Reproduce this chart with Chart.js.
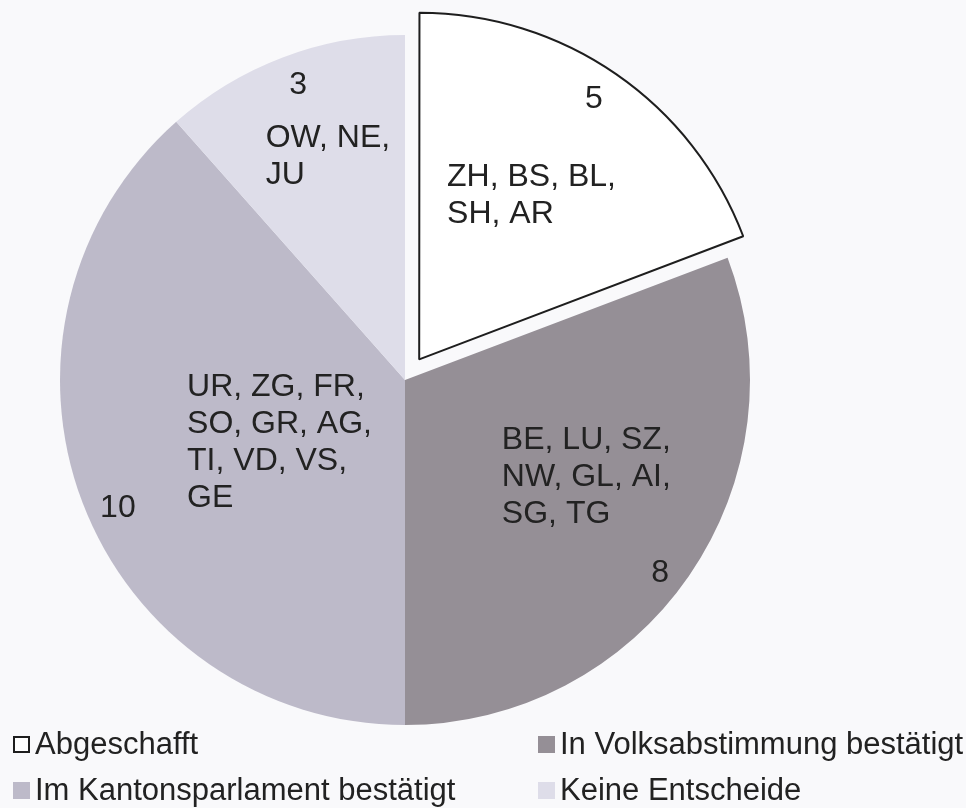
<!DOCTYPE html>
<html lang="de">
<head>
  <meta charset="UTF-8">
  <title>Entscheide nach Kantonen</title>
  <script src="https://cdn.jsdelivr.net/npm/chart.js"></script>
  <style>
    html, body {
      margin: 0;
      padding: 0;
      background: #f9f9fb;
      font-family: 'Liberation Sans', Arial, sans-serif;
    }

    .wrap {
      position: relative;
      width: 966px;
      height: 808px;
      overflow: hidden;
    }

    .pie-box {
      position: absolute;
      left: 0;
      top: 0;
      width: 810px;
      height: 760px;
    }

    .legende {
      position: absolute;
      left: 13px;
      top: 724px;
      display: grid;
      grid-template-columns: 525px 440px;
      row-gap: 6px;
      font-size: 31px;
      color: #222;
    }

    .legende div {
      display: flex;
      align-items: center;
      height: 40px;
      white-space: nowrap;
    }

    .legende span.box {
      display: inline-block;
      flex: 0 0 auto;
      width: 17px;
      height: 17px;
      margin-right: 5px;
      box-sizing: border-box;
    }
  </style>
</head>
<body>
  <div class="wrap">
    <div class="pie-box">
      <canvas id="kuchen"></canvas>
    </div>
    <div class="legende" id="legende"></div>
  </div>

  <script>
    const categories = ['Abgeschafft', 'In Volksabstimmung bestätigt', 'Im Kantonsparlament bestätigt', 'Keine Entscheide'];
    const counts = [5, 8, 10, 3];
    const cantons = [
      ['ZH, BS, BL,', 'SH, AR'],
      ['BE, LU, SZ,', 'NW, GL, AI,', 'SG, TG'],
      ['UR, ZG, FR,', 'SO, GR, AG,', 'TI, VD, VS,', 'GE'],
      ['OW, NE,', 'JU']
    ];

    const farben = ['#ffffff', '#958f96', '#bdbac9', '#dedde9'];
    const raender = ['#1e1e1e', '#958f96', '#bdbac9', '#dedde9'];

    // label placement: [angle from top in degrees, share of radius]
    const wertPos = [[33.9, 0.908], [127.1, 0.927], [246, 0.911], [340.1, 0.91]];
    const kantonPos = [[8.7, 0.534], [121.7, 0.33], [268.2, 0.632], [330.1, 0.81]];

    const schrift = "32px 'Liberation Sans', Arial, sans-serif";

    const beschriftung = {
      id: 'beschriftung',
      afterDatasetsDraw(chart) {
        const ctx = chart.ctx;
        const bogen = chart.getDatasetMeta(0).data;
        ctx.save();
        ctx.font = schrift;
        ctx.fillStyle = '#222';
        ctx.textBaseline = 'middle';
        bogen.forEach((arc, i) => {
          const p = arc.getProps(['x', 'y', 'startAngle', 'endAngle', 'outerRadius']);
          const mitte = (p.startAngle + p.endAngle) / 2;
          const versatz = (arc.options.offset || 0) / 4;
          const cx = p.x + Math.cos(mitte) * versatz;
          const cy = p.y + Math.sin(mitte) * versatz;
          const punkt = ([grad, anteil]) => {
            const a = (grad - 90) * Math.PI / 180;
            return [cx + Math.cos(a) * p.outerRadius * anteil, cy + Math.sin(a) * p.outerRadius * anteil];
          };
          const [wx, wy] = punkt(wertPos[i]);
          ctx.textAlign = 'center';
          ctx.fillText(String(counts[i]), wx, wy);
          const [kx, ky] = punkt(kantonPos[i]);
          ctx.textAlign = 'left';
          cantons[i].forEach((zeile, j) => {
            ctx.fillText(zeile, kx, ky + j * 37);
          });
        });
        ctx.restore();
      }
    };

    const ctx = document.getElementById('kuchen').getContext('2d');
    const chart = new Chart(ctx, {
      type: 'pie',
      data: {
        labels: categories,
        datasets: [{
          data: counts,
          backgroundColor: farben,
          borderColor: raender,
          borderWidth: [2, 0, 0, 0],
          offset: [100, 0, 0, 0],
          hoverOffset: 0
        }]
      },
      options: {
        responsive: true,
        maintainAspectRatio: false,
        animation: false,
        radius: 345,
        layout: { padding: 0 },
        plugins: {
          legend: { display: false },
          tooltip: { enabled: false }
        }
      },
      plugins: [beschriftung]
    });

    // legend, filled in row by row like the original (two columns)
    const legende = document.getElementById('legende');
    categories.forEach((name, i) => {
      const eintrag = document.createElement('div');
      const box = document.createElement('span');
      box.className = 'box';
      box.style.background = farben[i];
      if (i === 0) box.style.border = '2px solid #1e1e1e';
      eintrag.appendChild(box);
      eintrag.appendChild(document.createTextNode(name));
      legende.appendChild(eintrag);
    });
  </script>
</body>
</html>
